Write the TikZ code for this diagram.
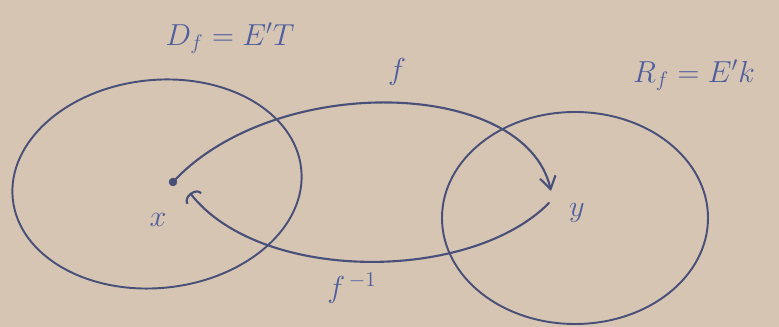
\documentclass[tikz,border=0pt]{standalone}
\usepackage{amsmath,amssymb}
\usepackage{tikz}
\usetikzlibrary{arrows.meta,calc}

\definecolor{paper}{RGB}{214,197,178}
\definecolor{pencil}{RGB}{72,80,122}
\definecolor{ink}{RGB}{78,94,158}

\begin{document}
\begin{tikzpicture}[x=0.02cm,y=-0.02cm,
  setline/.style={pencil, line width=1.1pt},
  maparrow/.style={pencil, line width=1.2pt, line cap=round},
  lbl/.style={ink, font=\LARGE}]
\useasboundingbox[fill=paper] (0,0) rectangle (779,327);
% the two sets
\draw[setline, rotate around={6:(157,184)}] (157,184) ellipse (145 and 104);
\draw[setline] (575,218) ellipse (133 and 106);
% points
\filldraw[pencil] (173,182) circle (2.2pt);
\coordinate (xdot) at (173,182);
\coordinate (xtip) at (190,193);
\coordinate (ytip) at (551,191);
\coordinate (yfoot) at (549,203);
\node[lbl] (xlabel) at (158,220) {$x$};
\node[lbl] (ylabel) at (577,213) {$y$};
% f and its inverse
\draw[maparrow, -{Straight Barb[length=7pt,width=9pt]}] (xdot) .. controls (275,72) and (525,78) .. (ytip);
\draw[maparrow, -{Arc Barb[length=4pt,width=11pt]}] (yfoot) .. controls (470,283) and (260,283) .. (xtip);
\node[lbl] (flabel) at (397,72) {$f$};
\node[lbl] (finvlabel) at (352,288) {$f^{\,-1}$};
% domain and range
\node[lbl] (dlabel) at (230,38) {$D_f = E'T$};
\node[lbl] (rlabel) at (694,75) {$R_f = E'k$};
\end{tikzpicture}
\end{document}
